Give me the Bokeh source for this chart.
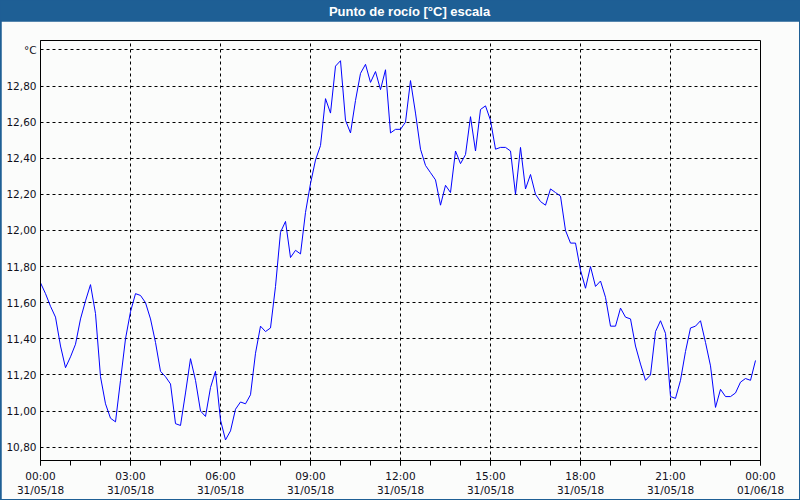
from bokeh.plotting import figure
from bokeh.layouts import column, row
from bokeh.models import Range1d, FixedTicker, Spacer, ColumnDataSource
from bokeh.core.properties import value
from bokeh.embed import file_html
from bokeh.resources import INLINE

title_text = "Punto de rocío [°C] escala"

# dew point every 10 minutes, 31/05/18 00:00 .. 23:50
dew_point = [
    11.71, 11.65, 11.58, 11.52, 11.36, 11.24, 11.30, 11.37, 11.51, 11.61, 11.70, 11.54,
    11.19, 11.04, 10.96, 10.94, 11.17, 11.40, 11.55, 11.65, 11.64, 11.60, 11.51, 11.38,
    11.22, 11.19, 11.15, 10.93, 10.92, 11.10, 11.29, 11.17, 11.00, 10.97, 11.13, 11.22,
    10.95, 10.84, 10.89, 11.01, 11.05, 11.04, 11.09, 11.32, 11.47, 11.44, 11.46, 11.69,
    11.99, 12.05, 11.85, 11.89, 11.87, 12.10, 12.26, 12.39, 12.47, 12.73, 12.65, 12.91,
    12.94, 12.61, 12.54, 12.72, 12.87, 12.92, 12.82, 12.88, 12.78, 12.89, 12.54, 12.56,
    12.56, 12.60, 12.83, 12.65, 12.45, 12.36, 12.32, 12.28, 12.14, 12.25, 12.21, 12.44,
    12.37, 12.42, 12.63, 12.44, 12.67, 12.69, 12.61, 12.45, 12.46, 12.46, 12.44, 12.20,
    12.46, 12.23, 12.31, 12.20, 12.16, 12.14, 12.23, 12.21, 12.19, 12.00, 11.93, 11.93,
    11.78, 11.68, 11.80, 11.69, 11.72, 11.63, 11.47, 11.47, 11.57, 11.52, 11.51, 11.36,
    11.26, 11.17, 11.20, 11.44, 11.50, 11.43, 11.08, 11.07, 11.17, 11.33, 11.46, 11.47,
    11.50, 11.38, 11.25, 11.02, 11.12, 11.08, 11.08, 11.10, 11.16, 11.18, 11.17, 11.28,
]
minutes_step = 10
hours = [i * minutes_step / 60.0 for i in range(len(dew_point))]

x_ticks = [0, 3, 6, 9, 12, 15, 18, 21, 24]
x_labels = ["00:00\n31/05/18", "03:00\n31/05/18", "06:00\n31/05/18", "09:00\n31/05/18",
            "12:00\n31/05/18", "15:00\n31/05/18", "18:00\n31/05/18", "21:00\n31/05/18",
            "00:00\n01/06/18"]
x_minor = list(range(0, 25))

y_ticks = [10.8, 11.0, 11.2, 11.4, 11.6, 11.8, 12.0, 12.2, 12.4, 12.6, 12.8, 13.0]
y_labels = ["10,80", "11,00", "11,20", "11,40", "11,60", "11,80", "12,00", "12,20",
            "12,40", "12,60", "12,80", "°C"]

BLUE = "#1e5f95"
BG = "#fbfcfb"
TXT = "#10101c"
FONT = "DejaVu Sans"

# title bar
pt = figure(width=800, height=21, x_range=Range1d(0, 800), y_range=Range1d(0, 21),
            toolbar_location=None, output_backend="svg", min_border=0,
            background_fill_color=BLUE, border_fill_color=BLUE, outline_line_color=None)
pt.axis.visible = False
pt.grid.visible = False
pt.text(x=[409], y=[10.5], text=[title_text], text_color="white",
        text_font=value("Liberation Sans Narrow, Liberation Sans"), text_font_style="bold",
        text_font_size="13px", text_align="center", text_baseline="middle")

# main chart
p = figure(width=798, height=478, x_range=Range1d(0, 24), y_range=Range1d(10.726, 13.052),
           toolbar_location=None, output_backend="svg",
           min_border_left=39, min_border_right=39, min_border_top=19, min_border_bottom=39,
           background_fill_color=BG, border_fill_color=BG,
           outline_line_color="black", outline_line_width=1)

src = ColumnDataSource(dict(x=hours, y=dew_point))
p.line("x", "y", source=src, line_color="#0000ff", line_width=1)

xt = FixedTicker(ticks=x_ticks, minor_ticks=x_minor)
p.xaxis.ticker = xt
p.xaxis.major_label_overrides = {t: l for t, l in zip(x_ticks, x_labels)}
p.xaxis.major_tick_out = 5
p.xaxis.major_tick_in = 0
p.xaxis.minor_tick_out = 5
p.xaxis.minor_tick_in = 0
p.xaxis.major_label_standoff = 4
p.xaxis.major_label_text_font = FONT
p.xaxis.major_label_text_font_size = "10.5px"
p.xaxis.major_label_text_color = TXT
p.xaxis.axis_line_color = "black"
p.xaxis.major_tick_line_color = "black"
p.xaxis.minor_tick_line_color = "black"

yt = FixedTicker(ticks=y_ticks)
p.yaxis.ticker = yt
p.yaxis.major_label_overrides = {t: l for t, l in zip(y_ticks, y_labels)}
p.yaxis.major_tick_out = 0
p.yaxis.major_tick_in = 0
p.yaxis.minor_tick_line_color = None
p.yaxis.major_label_standoff = 4
p.yaxis.major_label_text_font = FONT
p.yaxis.major_label_text_font_size = "10.5px"
p.yaxis.major_label_text_color = TXT
p.yaxis.axis_line_color = "black"

p.xgrid.ticker = xt
p.ygrid.ticker = yt
for g in (p.xgrid, p.ygrid):
    g.grid_line_color = "black"
    g.grid_line_dash = "3 3"
    g.grid_line_width = 1
    g.grid_line_alpha = 1

layout = column(
    pt,
    row(Spacer(width=1, height=478), p, Spacer(width=1, height=478), spacing=0),
    Spacer(width=800, height=1),
    spacing=0,
    styles={"background-color": BLUE},
)

open("out.html", "w").write(file_html(layout, INLINE))
